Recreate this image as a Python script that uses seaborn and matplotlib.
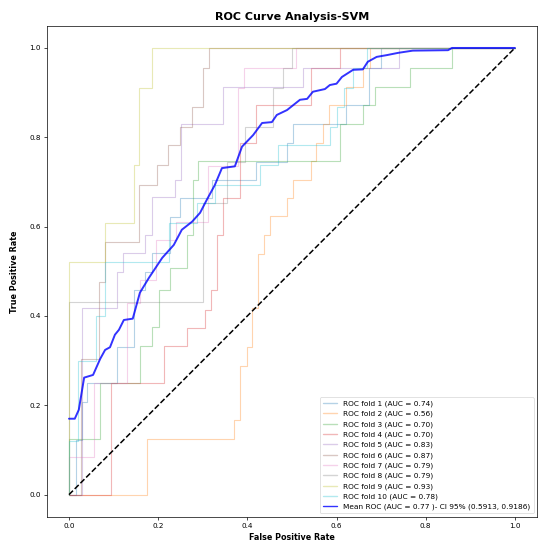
import numpy as np
import pandas as pd
import matplotlib
matplotlib.use("Agg")
import matplotlib.pyplot as plt
import seaborn as sns

# ---- data (corner points of each ROC step curve) ----
fold1_fpr = [0, 0.016, 0.016, 0.029, 0.029, 0.04, 0.04, 0.107, 0.107, 0.146, 0.146, 0.170, 0.170, 0.186, 0.186, 0.226, 0.226, 0.249, 0.249, 0.32, 0.32, 0.42, 0.42, 0.489, 0.489, 0.502, 0.502, 0.621, 0.621, 0.672, 0.672, 0.70, 0.70, 1.0]
fold1_tpr = [0, 0, 0.123, 0.123, 0.208, 0.208, 0.25, 0.25, 0.331, 0.331, 0.459, 0.459, 0.499, 0.499, 0.541, 0.541, 0.622, 0.622, 0.664, 0.664, 0.705, 0.705, 0.745, 0.745, 0.787, 0.787, 0.83, 0.83, 0.872, 0.872, 0.955, 0.955, 1.0, 1.0]

fold2_fpr = [0, 0.175, 0.175, 0.37, 0.37, 0.383, 0.383, 0.399, 0.399, 0.41, 0.41, 0.424, 0.424, 0.437, 0.437, 0.45, 0.45, 0.489, 0.489, 0.502, 0.502, 0.543, 0.543, 0.554, 0.554, 0.569, 0.569, 0.583, 0.583, 0.621, 0.621, 0.66, 0.66, 0.675, 0.675, 1.0]
fold2_tpr = [0, 0, 0.125, 0.125, 0.166, 0.166, 0.289, 0.289, 0.331, 0.331, 0.418, 0.418, 0.539, 0.539, 0.582, 0.582, 0.624, 0.624, 0.664, 0.664, 0.705, 0.705, 0.747, 0.747, 0.787, 0.787, 0.83, 0.83, 0.872, 0.872, 0.913, 0.913, 0.955, 0.955, 1.0, 1.0]

fold3_fpr = [0, 0, 0.07, 0.07, 0.159, 0.159, 0.186, 0.186, 0.202, 0.202, 0.226, 0.226, 0.265, 0.265, 0.278, 0.278, 0.289, 0.289, 0.608, 0.608, 0.659, 0.659, 0.686, 0.686, 0.765, 0.765, 0.859, 0.859, 1.0]
fold3_tpr = [0, 0.125, 0.125, 0.25, 0.25, 0.333, 0.333, 0.376, 0.376, 0.459, 0.459, 0.508, 0.508, 0.582, 0.582, 0.705, 0.705, 0.747, 0.747, 0.83, 0.83, 0.872, 0.872, 0.913, 0.913, 0.955, 0.955, 1.0, 1.0]

fold4_fpr = [0, 0.094, 0.094, 0.213, 0.213, 0.265, 0.265, 0.305, 0.305, 0.318, 0.318, 0.332, 0.332, 0.345, 0.345, 0.383, 0.383, 0.42, 0.42, 0.543, 0.543, 0.608, 0.608, 1.0]
fold4_tpr = [0, 0, 0.25, 0.25, 0.333, 0.333, 0.373, 0.373, 0.414, 0.414, 0.459, 0.459, 0.582, 0.582, 0.664, 0.664, 0.787, 0.787, 0.872, 0.872, 0.955, 0.955, 1.0, 1.0]

fold5_fpr = [0, 0.029, 0.029, 0.108, 0.108, 0.121, 0.121, 0.170, 0.170, 0.186, 0.186, 0.238, 0.238, 0.251, 0.251, 0.345, 0.345, 0.525, 0.525, 0.74, 0.74, 1.0]
fold5_tpr = [0, 0, 0.418, 0.418, 0.499, 0.499, 0.541, 0.541, 0.582, 0.582, 0.667, 0.667, 0.705, 0.705, 0.83, 0.83, 0.913, 0.913, 0.955, 0.955, 1.0, 1.0]

fold6_fpr = [0, 0.028, 0.028, 0.067, 0.067, 0.081, 0.081, 0.157, 0.157, 0.197, 0.197, 0.222, 0.222, 0.249, 0.249, 0.275, 0.275, 0.30, 0.30, 0.314, 0.314, 1.0]
fold6_tpr = [0, 0, 0.304, 0.304, 0.477, 0.477, 0.566, 0.566, 0.693, 0.693, 0.738, 0.738, 0.783, 0.783, 0.823, 0.823, 0.868, 0.868, 0.955, 0.955, 1.0, 1.0]

fold7_fpr = [0, 0, 0.056, 0.056, 0.13, 0.13, 0.16, 0.16, 0.195, 0.195, 0.24, 0.24, 0.312, 0.312, 0.379, 0.379, 0.392, 0.392, 0.509, 0.509, 1.0]
fold7_tpr = [0, 0.085, 0.085, 0.25, 0.25, 0.43, 0.43, 0.48, 0.48, 0.57, 0.57, 0.61, 0.61, 0.735, 0.735, 0.91, 0.91, 0.955, 0.955, 1.0, 1.0]

fold8_fpr = [0, 0, 0.30, 0.30, 0.354, 0.354, 0.395, 0.395, 0.457, 0.457, 0.48, 0.48, 0.50, 0.50, 1.0]
fold8_tpr = [0, 0.432, 0.432, 0.653, 0.653, 0.745, 0.745, 0.823, 0.823, 0.91, 0.91, 0.955, 0.955, 1.0, 1.0]

fold9_fpr = [0, 0, 0.081, 0.081, 0.146, 0.146, 0.157, 0.157, 0.186, 0.186, 1.0]
fold9_tpr = [0, 0.52, 0.52, 0.608, 0.608, 0.738, 0.738, 0.91, 0.91, 1.0, 1.0]

fold10_fpr = [0, 0, 0.02, 0.02, 0.06, 0.06, 0.081, 0.081, 0.224, 0.224, 0.287, 0.287, 0.327, 0.327, 0.428, 0.428, 0.469, 0.469, 0.585, 0.585, 0.60, 0.60, 0.617, 0.617, 0.637, 0.637, 0.668, 0.668, 1.0]
fold10_tpr = [0, 0.12, 0.12, 0.30, 0.30, 0.40, 0.40, 0.521, 0.521, 0.608, 0.608, 0.653, 0.653, 0.693, 0.693, 0.738, 0.738, 0.783, 0.783, 0.823, 0.823, 0.868, 0.868, 0.91, 0.91, 0.955, 0.955, 1.0, 1.0]

fold_auc = [0.74, 0.56, 0.70, 0.70, 0.83, 0.87, 0.79, 0.79, 0.93, 0.78]

mean_fpr = [0.0, 0.013, 0.022, 0.034, 0.054, 0.07, 0.081, 0.092, 0.103, 0.112, 0.123, 0.143, 0.159, 0.179, 0.209, 0.235, 0.253, 0.276, 0.294, 0.309, 0.327, 0.343, 0.372, 0.388, 0.413, 0.433, 0.455, 0.466, 0.489, 0.518, 0.534, 0.547, 0.574, 0.585, 0.60, 0.612, 0.637, 0.659, 0.67, 0.69, 0.713, 0.738, 0.771, 0.85, 0.859, 1.0]
mean_tpr = [0.17, 0.17, 0.19, 0.262, 0.268, 0.304, 0.324, 0.33, 0.358, 0.369, 0.391, 0.394, 0.452, 0.485, 0.53, 0.559, 0.593, 0.611, 0.631, 0.66, 0.693, 0.731, 0.735, 0.779, 0.805, 0.832, 0.834, 0.85, 0.861, 0.884, 0.886, 0.902, 0.908, 0.917, 0.92, 0.935, 0.951, 0.952, 0.969, 0.98, 0.984, 0.989, 0.994, 0.995, 1.0, 1.0]
mean_auc = 0.77
ci_low, ci_high = 0.5913, 0.9186

folds_fpr = [fold1_fpr, fold2_fpr, fold3_fpr, fold4_fpr, fold5_fpr,
             fold6_fpr, fold7_fpr, fold8_fpr, fold9_fpr, fold10_fpr]
folds_tpr = [fold1_tpr, fold2_tpr, fold3_tpr, fold4_tpr, fold5_tpr,
             fold6_tpr, fold7_tpr, fold8_tpr, fold9_tpr, fold10_tpr]

# ---- plotting ----
sns.set_style("ticks")
plt.rcParams['font.family'] = ['DejaVu Sans']
plt.rcParams['text.color'] = 'black'
plt.rcParams['xtick.color'] = 'black'
plt.rcParams['ytick.color'] = 'black'
plt.rcParams['axes.labelcolor'] = 'black'

fig = plt.figure(figsize=(5.41, 5.45), dpi=100)
ax = fig.add_axes([0.0863, 0.0514, 0.9067, 0.9016])

palette = sns.color_palette("tab10", 10)
for i in range(10):
    sns.lineplot(x=folds_fpr[i], y=folds_tpr[i], ax=ax, estimator=None, sort=False,
                 color=palette[i], alpha=0.33, lw=0.8,
                 label=f"ROC fold {i+1} (AUC = {fold_auc[i]:.2f})")

sns.lineplot(x=[0, 1], y=[0, 1], ax=ax, estimator=None, sort=False,
             color="black", lw=1.1, linestyle="--")

sns.lineplot(x=mean_fpr, y=mean_tpr, ax=ax, estimator=None, sort=False,
             color="b", alpha=0.8, lw=1.4,
             label=f"Mean ROC (AUC = {mean_auc:.2f} )- CI 95% ({ci_low:.4f}, {ci_high:.4f})")

ax.set_xlim(-0.05, 1.05)
ax.set_ylim(-0.05, 1.05)
ax.set_xticks([0.0, 0.2, 0.4, 0.6, 0.8, 1.0])
ax.set_yticks([0.0, 0.2, 0.4, 0.6, 0.8, 1.0])
ax.tick_params(labelsize=5.2, length=2, width=0.5, pad=2, color="black")
for s in ax.spines.values():
    s.set_linewidth(0.5)
    s.set_color("black")

ax.set_xlabel("False Positive Rate", fontsize=5.8, fontweight="bold", labelpad=3)
ax.set_ylabel("True Positive Rate", fontsize=5.8, fontweight="bold", labelpad=8)
ax.set_title("ROC Curve Analysis-SVM", fontsize=8, fontweight="bold", pad=4)

leg = ax.legend(loc="lower right", fontsize=5.3, frameon=True)
leg.get_frame().set_linewidth(0.5)
for line in leg.get_lines():
    line.set_linewidth(1.0)

fig.savefig("out.png", dpi=100)
